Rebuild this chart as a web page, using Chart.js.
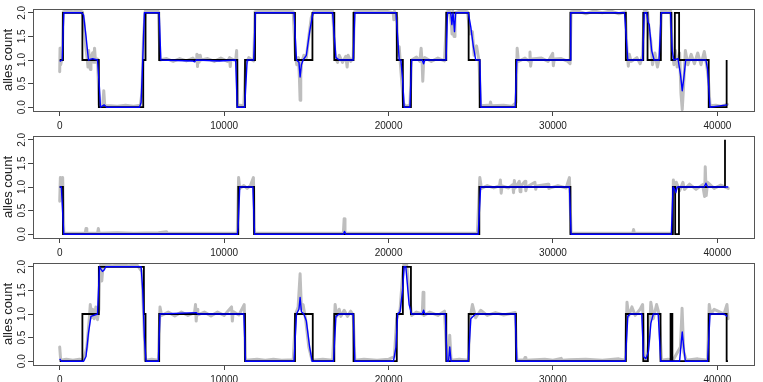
<!DOCTYPE html>
<html>
<head>
<meta charset="utf-8">
<title>alles count</title>
<script src="https://cdn.jsdelivr.net/npm/chart.js@4.4.1/dist/chart.umd.min.js"></script>
<style>
  html, body { margin: 0; padding: 0; background: #fff; width: 763px; height: 382px; overflow: hidden; }
  canvas { position: absolute; left: 0; }
</style>
</head>
<body>
<canvas id="panel1" width="763" height="135" style="top:0px"></canvas>
<canvas id="panel2" width="763" height="135" style="top:127px"></canvas>
<canvas id="panel3" width="763" height="135" style="top:254px"></canvas>
<script>
// ----------------------
// DATA
// ----------------------
const xTicks = [0, 10000, 20000, 30000, 40000];
const yTicks = [0, 0.5, 1, 1.5, 2];
const yTitle = "alles count";

// black step lines: level y[i] holds from x[i] up to x[i+1]
const step1X = [0, 200, 1380, 2380, 5080, 5220, 6050, 10800, 11270, 11880, 14310, 15370, 16700, 17870, 20500, 20870, 21360, 23510, 24870, 25540, 27750, 31060, 34430, 35490, 35750, 36560, 37200, 37410, 37670, 39470, 40560];
const step1Y = [1, 2, 1, 0, 1, 2, 1, 0, 1, 2, 1, 2, 1, 2, 1, 0, 1, 2, 1, 0, 1, 2, 1, 2, 1, 2, 1, 2, 1, 0, 1];
const step2X = [0, 200, 10860, 11820, 25520, 31060, 37290, 37430, 37660, 40460];
const step2Y = [1, 0, 1, 0, 1, 0, 1, 0, 1, 2];
const step3X = [0, 1380, 2380, 5120, 5220, 6050, 11270, 14310, 15390, 16700, 17870, 20500, 20870, 21360, 23510, 24870, 27750, 34430, 35490, 35770, 36540, 37150, 37260, 39470, 40560, 40640];
const step3Y = [0, 1, 2, 1, 0, 1, 0, 1, 0, 1, 0, 1, 2, 1, 0, 1, 0, 1, 0, 1, 0, 1, 0, 1, 0, 0];

// blue smoothed estimate
const blue1 = [[0,0.97],[150,1.0],[250,2.0],[1350,2.0],[1450,1.95],[1600,1.5],[1750,1.0],[2000,1.03],[2300,1.0],[2400,0.5],[2480,0.0],[2700,0.05],[2850,0],[4850,0.0],[4950,0.1],[5050,1.0],[5150,2.0],[6050,2.0],[6150,1.0],[8100,0.98],[8200,0.96],[8300,1.0],[9700,0.98],[10700,1.0],[10800,0.0],[11250,0.0],[11400,1.0],[11800,1.0],[11900,2.0],[14250,2.0],[14400,1.0],[14550,0.95],[14620,0.64],[14700,0.9],[14800,1.0],[15000,1.1],[15200,1.6],[15400,2.0],[16600,2.0],[16700,1.5],[16800,1.05],[17000,1.0],[17850,1.0],[17950,2.0],[20450,2.0],[20550,1.5],[20650,1.0],[20750,1.0],[20850,0.6],[20950,0.0],[21300,0.0],[21400,1.0],[22050,1.0],[22130,0.92],[22200,1.0],[23500,1.0],[23580,2.0],[23780,2.0],[23850,1.75],[23920,2.0],[23970,2.0],[24010,1.6],[24080,2.0],[24850,2.0],[25000,1.7],[25150,1.3],[25300,1.0],[25550,1.0],[25620,0.0],[27700,0.0],[27800,1.0],[31050,1.0],[31080,2.0],[34350,2.0],[34450,1.5],[34550,1.0],[35450,1.0],[35550,2.0],[35700,2.0],[35780,1.8],[35850,1.75],[36000,1.2],[36150,1.0],[36450,1.0],[36580,2.0],[37150,2.0],[37250,1.2],[37350,1.0],[37600,1.03],[37750,0.7],[37860,0.35],[37950,0.6],[38070,1.0],[39300,1.0],[39400,0.8],[39550,0.0],[40600,0.05]];
const blue2 = [[0,1.0],[100,1.0],[250,0.0],[10800,0.0],[10850,0.15],[10950,1.0],[11750,1.0],[11850,0.0],[17250,0.0],[17320,0.06],[17400,0.0],[25450,0.0],[25600,1.0],[31000,1.0],[31100,0.0],[37200,0.0],[37300,1.0],[37400,0.95],[37470,0.88],[37550,1.0],[39200,1.0],[39300,1.08],[39400,1.0],[40660,1.0]];
const blue3 = [[0,0.05],[100,0.0],[1450,0.0],[1600,0.1],[1750,0.6],[1900,0.95],[2300,1.0],[2420,2.0],[2600,1.9],[2700,1.93],[2800,2.0],[4950,2.0],[5050,1.5],[5150,0.5],[5250,0.0],[6000,0.0],[6100,1.0],[8300,1.03],[8400,1.0],[11200,1.0],[11300,0.0],[14250,0.0],[14400,1.0],[14550,1.1],[14620,1.35],[14700,1.05],[14850,1.0],[15000,0.85],[15200,0.3],[15350,0.0],[16650,0.0],[16800,0.95],[17000,1.0],[17850,1.0],[17950,0.0],[20300,0.0],[20450,0.3],[20550,1.0],[20700,1.05],[20850,1.5],[20950,2.0],[21050,2.0],[21250,1.2],[21400,1.0],[22050,1.0],[22130,1.08],[22200,1.0],[23450,1.0],[23550,0.0],[23650,0.0],[23720,0.3],[23800,0.0],[24850,0.0],[25000,0.9],[25150,0.95],[25300,1.0],[27700,1.0],[27800,0.0],[34400,0.0],[34550,0.95],[34700,1.0],[35400,1.0],[35500,0.1],[35650,0.05],[35800,0.2],[35950,0.8],[36100,1.0],[36400,1.0],[36550,0.0],[37700,0.0],[37800,0.4],[37860,0.62],[37950,0.3],[38050,0.0],[39400,0.0],[39550,1.0],[40400,1.0],[40600,0.95]];

// grey raw counts
const grey1 = [[0,0.75],[20,1.25],[60,0.9],[150,1.05],[220,2.02],[500,2.04],[800,2.02],[1100,2.05],[1380,2.02],[1480,1.8],[1580,1.3],[1680,1.0],[1720,0.85],[1760,1.2],[1820,0.95],[1860,0.8],[1900,1.05],[2000,1.15],[2060,0.95],[2120,1.25],[2180,0.95],[2300,1.02],[2400,0.05],[2500,0.02],[2620,0.05],[2680,0.35],[2740,0.03],[3100,0.03],[3500,0.02],[4000,0.04],[4500,0.02],[4900,0.04],[5000,0.3],[5100,1.5],[5200,2.03],[5600,2.04],[6000,2.03],[6100,1.0],[6500,1.03],[6900,0.97],[7300,1.03],[7700,0.98],[8100,1.04],[8300,0.97],[8340,1.12],[8380,0.86],[8420,1.1],[8480,0.95],[8550,1.1],[8600,1.0],[9000,1.03],[9400,0.97],[9800,1.04],[10200,0.97],[10330,1.05],[10370,0.86],[10420,1.03],[10700,0.98],[10760,1.2],[10820,0.05],[11200,0.03],[11300,0.9],[11500,1.05],[11800,0.98],[11880,2.02],[12500,2.04],[13000,2.02],[13500,2.05],[14200,2.02],[14330,1.1],[14420,0.9],[14520,1.05],[14580,0.6],[14620,0.15],[14660,0.7],[14720,0.95],[14850,1.1],[15000,1.05],[15150,1.5],[15300,1.9],[15450,2.03],[16000,2.04],[16600,2.03],[16750,1.05],[16900,0.95],[17000,1.1],[17200,0.95],[17400,1.08],[17480,0.85],[17540,1.1],[17700,0.97],[17850,1.05],[17920,2.02],[18500,2.04],[19200,2.02],[19800,2.04],[20280,2.0],[20320,1.85],[20360,2.03],[20500,1.9],[20560,1.1],[20650,1.28],[20720,0.9],[20900,0.1],[21000,0.02],[21300,0.04],[21400,1.0],[21700,1.06],[21900,0.97],[21980,1.25],[22040,0.95],[22080,0.55],[22130,0.95],[22200,1.05],[22600,0.97],[23000,1.04],[23400,0.98],[23550,2.02],[23700,2.04],[23820,1.75],[23860,1.55],[23900,2.04],[23980,1.5],[24040,2.0],[24400,2.04],[24800,2.02],[24950,1.55],[25100,1.6],[25200,1.1],[25350,1.3],[25500,0.98],[25600,0.03],[26000,0.04],[26150,0.03],[26200,0.11],[26250,0.03],[27000,0.04],[27500,0.02],[27750,0.1],[27820,1.25],[27900,0.97],[28300,1.04],[28560,0.97],[28600,1.17],[28640,0.87],[28700,1.02],[29300,1.04],[29700,0.97],[29980,1.14],[30020,0.88],[30080,1.02],[30500,1.03],[30900,0.97],[31040,0.92],[31100,2.02],[31500,2.04],[32000,1.98],[32500,2.04],[33000,2.0],[33500,2.04],[34000,1.98],[34400,2.02],[34500,1.2],[34580,0.87],[34640,1.12],[34750,0.97],[35100,1.05],[35300,0.92],[35450,1.1],[35550,2.04],[35750,2.02],[35850,1.6],[35950,1.4],[36050,0.9],[36200,1.15],[36350,0.85],[36500,1.1],[36600,2.04],[37000,2.02],[37150,2.04],[37250,1.3],[37350,0.9],[37450,1.2],[37550,0.85],[37700,1.15],[37780,0.3],[37860,-0.05],[37950,0.5],[38050,1.2],[38200,0.9],[38400,1.12],[38600,0.92],[38800,1.15],[39000,0.9],[39200,1.18],[39350,0.88],[39450,0.6],[39550,0.03],[39900,0.04],[40200,0.02],[40600,0.06]];
const grey2 = [[0,0.7],[40,1.2],[100,0.95],[180,1.2],[250,0.02],[1550,0.02],[1600,0.12],[1650,0.02],[2300,0.02],[2350,0.12],[2400,0.02],[3500,0.03],[4500,0.02],[6000,0.03],[6500,0.05],[6550,0.02],[10800,0.02],[10880,1.2],[10950,0.97],[11200,1.03],[11400,0.97],[11600,1.03],[11780,1.2],[11850,0.02],[17250,0.02],[17300,0.33],[17350,0.02],[25400,0.02],[25550,1.2],[25650,0.97],[26000,1.03],[26400,0.98],[26750,1.03],[26800,1.15],[26850,0.87],[26900,1.02],[27300,0.98],[27550,1.05],[27600,0.88],[27650,1.14],[27700,0.98],[27950,1.12],[28000,0.9],[28050,1.02],[28300,1.12],[28350,0.92],[28400,1.0],[28900,1.1],[28950,0.95],[29000,1.02],[29700,1.06],[29750,0.97],[30300,1.03],[30800,0.98],[31000,1.2],[31100,0.02],[34850,0.02],[34900,0.1],[34950,0.02],[37250,0.02],[37320,1.15],[37400,0.85],[37500,1.1],[37700,0.92],[37900,1.1],[38000,0.95],[38300,1.06],[38700,0.95],[39100,1.05],[39220,0.8],[39260,1.43],[39320,0.82],[39400,1.1],[39800,0.97],[40200,1.04],[40660,0.97]];
const grey3 = [[0,0.3],[60,0.02],[400,0.04],[800,0.02],[1200,0.04],[1450,0.02],[1650,0.3],[1800,0.9],[1860,1.2],[1920,0.92],[2000,1.1],[2100,0.9],[2200,1.15],[2300,0.88],[2380,1.1],[2420,1.74],[2480,2.03],[2560,1.7],[2640,2.04],[3200,2.02],[3700,2.04],[4200,2.02],[4700,2.04],[5000,1.9],[5100,1.0],[5200,0.02],[5600,0.04],[6000,0.02],[6100,1.15],[6200,0.97],[6600,1.04],[7000,0.96],[7400,1.04],[7800,0.97],[8200,1.03],[8260,1.2],[8300,0.85],[8350,1.1],[8400,0.98],[8800,1.04],[9200,0.96],[9600,1.04],[10000,0.97],[10450,1.15],[10500,0.85],[10550,1.05],[10900,0.98],[11220,1.2],[11300,0.02],[12000,0.04],[12500,0.02],[13000,0.04],[13500,0.02],[14200,0.03],[14350,1.0],[14500,1.15],[14620,1.85],[14700,1.1],[14800,1.2],[14950,0.9],[15150,0.3],[15350,0.02],[16000,0.04],[16600,0.02],[16750,1.2],[16850,0.95],[17000,1.1],[17100,0.95],[17300,1.08],[17500,0.95],[17700,1.06],[17850,0.97],[17950,0.02],[18500,0.04],[19300,0.02],[20000,0.04],[20350,0.1],[20500,0.9],[20700,1.1],[20850,1.8],[20950,2.1],[21100,2.05],[21300,1.3],[21400,0.97],[21700,1.04],[22050,1.0],[22100,1.46],[22150,0.97],[22500,1.04],[23000,0.97],[23400,1.06],[23550,0.02],[23650,0.1],[23720,0.55],[23800,0.02],[24300,0.04],[24850,0.02],[24950,0.9],[25100,1.2],[25300,0.92],[25600,1.08],[26000,0.97],[26500,1.03],[27000,0.98],[27700,1.03],[27800,0.02],[28250,0.03],[28300,0.08],[28350,0.02],[29500,0.04],[30000,0.02],[30500,0.06],[30550,0.02],[31000,0.03],[32000,0.04],[33000,0.02],[34000,0.05],[34400,0.02],[34500,1.25],[34600,0.95],[34800,1.15],[35000,0.97],[35300,1.1],[35450,1.2],[35550,0.02],[35700,0.05],[35850,0.5],[35950,1.25],[36100,0.9],[36300,1.2],[36450,1.0],[36600,0.02],[37000,0.04],[37300,0.02],[37750,0.3],[37850,1.12],[37950,0.2],[38100,0.02],[38800,0.05],[39400,0.02],[39500,1.2],[39600,1.0],[39800,1.1],[40100,1.05],[40400,1.0],[40580,1.2],[40650,0.9]];

// ----------------------
// HELPERS
// ----------------------
const FONT = "'Liberation Sans', Arial, Helvetica, sans-serif";

function toPoints(pairs) {
  return pairs.map(([x, y]) => ({ x, y }));
}

function stepPoints(xs, ys) {
  return xs.map((x, i) => ({ x, y: ys[i] }));
}

// box round the plot, rotated y tick labels and the y title, R style
const rFrame = {
  id: "rFrame",
  afterDraw(chart) {
    const { ctx, chartArea: a } = chart;
    const yScale = chart.scales.y;
    ctx.save();
    ctx.strokeStyle = "#555";
    ctx.lineWidth = 1;
    ctx.strokeRect(Math.round(a.left) + 0.5, Math.round(a.top) + 0.5, Math.round(a.right - a.left), Math.round(a.bottom - a.top));

    ctx.fillStyle = "#222";
    ctx.textAlign = "center";
    ctx.textBaseline = "middle";
    ctx.font = `10px ${FONT}`;
    yTicks.forEach((v) => {
      ctx.save();
      ctx.translate(22, yScale.getPixelForValue(v));
      ctx.rotate(-Math.PI / 2);
      ctx.fillText(v.toFixed(1), 0, 0);
      ctx.restore();
    });

    ctx.font = `13px ${FONT}`;
    ctx.translate(8, (a.top + a.bottom) / 2);
    ctx.rotate(-Math.PI / 2);
    ctx.fillText(yTitle, 0, 0);
    ctx.restore();
  },
};

// ----------------------
// PANELS
// ----------------------
function drawPanel(canvasId, stepX, stepY, blue, grey) {
  const ctx = document.getElementById(canvasId).getContext("2d");
  return new Chart(ctx, {
    type: "line",
    data: {
      datasets: [
        { data: toPoints(blue), borderColor: "#0000ff", borderWidth: 1.4, borderJoinStyle: "round", order: 0 },
        { data: stepPoints(stepX, stepY), borderColor: "#000", borderWidth: 1.8, stepped: true, order: 1 },
        { data: toPoints(grey), borderColor: "#bebebe", borderWidth: 3, borderJoinStyle: "round", borderCapStyle: "round", order: 2 },
      ],
    },
    options: {
      responsive: false,
      animation: false,
      devicePixelRatio: 1,
      elements: { point: { radius: 0 }, line: { tension: 0, fill: false } },
      layout: { padding: { left: 0, right: 9, top: 9, bottom: 0 } },
      plugins: { legend: { display: false }, tooltip: { enabled: false } },
      scales: {
        x: {
          type: "linear",
          min: -1624,
          max: 42224,
          afterBuildTicks: (s) => { s.ticks = xTicks.map((v) => ({ value: v })); },
          afterFit: (s) => { s.height = 24; },
          grid: { drawOnChartArea: false, drawTicks: true, tickLength: 5, color: "#444" },
          border: { display: false },
          ticks: { color: "#222", padding: 4, font: { family: FONT, size: 10 }, maxRotation: 0, autoSkip: false, callback: (v) => String(v) },
        },
        y: {
          type: "linear",
          min: -0.08,
          max: 2.08,
          afterBuildTicks: (s) => { s.ticks = yTicks.map((v) => ({ value: v })); },
          afterFit: (s) => { s.width = 33; },
          grid: { drawOnChartArea: false, drawTicks: true, tickLength: 5, color: "#444" },
          border: { display: false },
          ticks: { display: false },
        },
      },
    },
    plugins: [rFrame],
  });
}

drawPanel("panel1", step1X, step1Y, blue1, grey1);
drawPanel("panel2", step2X, step2Y, blue2, grey2);
drawPanel("panel3", step3X, step3Y, blue3, grey3);
</script>
</body>
</html>
